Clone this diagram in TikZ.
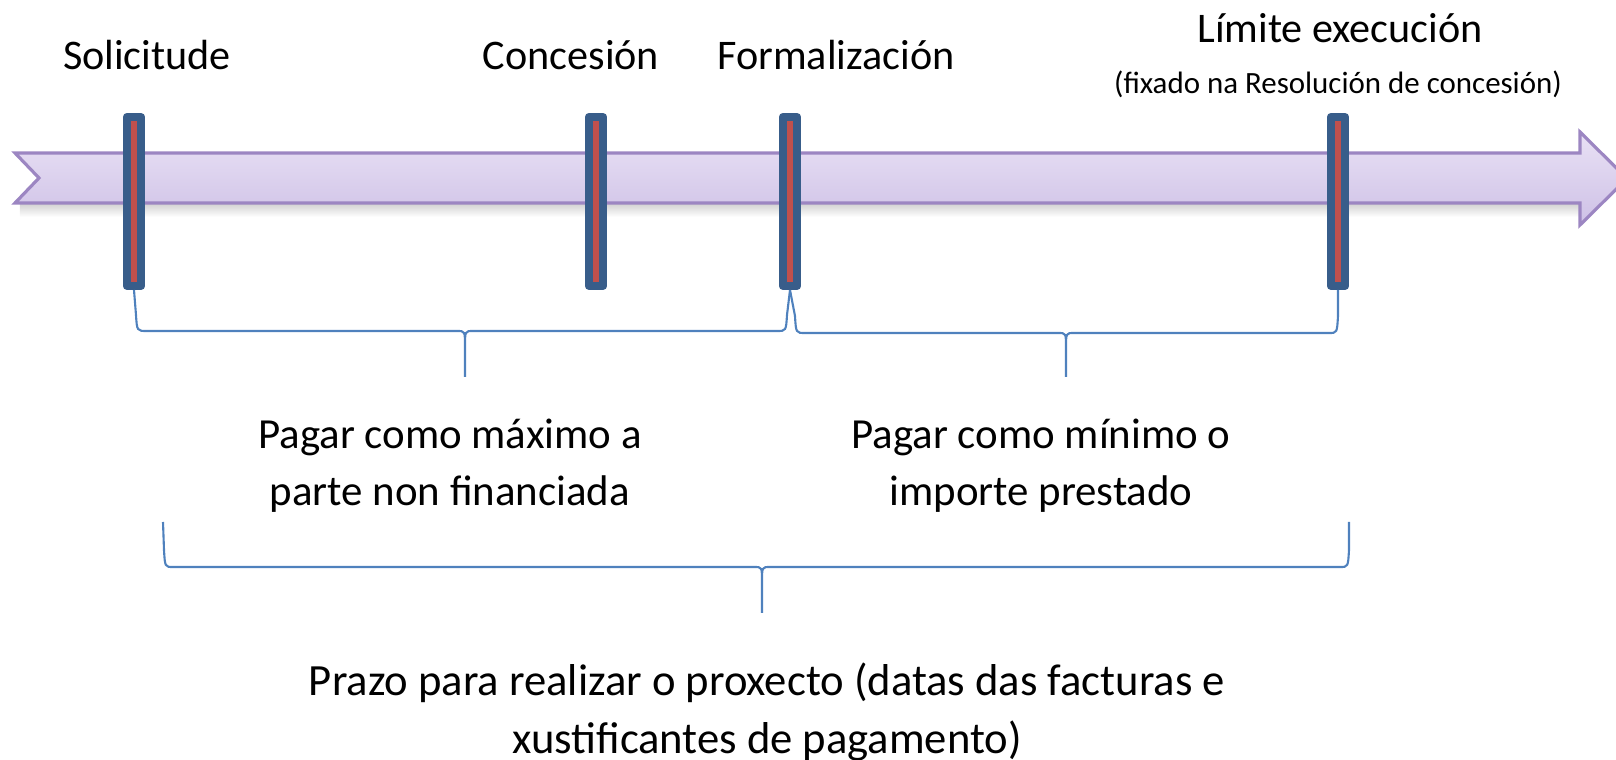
\documentclass[tikz,border=0pt]{standalone}
\usepackage{fontspec}
\setmainfont{Carlito}
\definecolor{arrowtop}{HTML}{E9E1F5}
\definecolor{arrowbot}{HTML}{CEC1E6}
\definecolor{arrowline}{HTML}{9C86C2}
\definecolor{markblue}{HTML}{385D8A}
\definecolor{markred}{HTML}{C0504D}
\definecolor{bracecol}{HTML}{4F81BD}
\tikzset{
  marker/.style={draw=markblue, fill=markred, line width=0.08cm, line join=round,
    minimum width=0.145cm, minimum height=1.69cm, inner sep=0pt},
  lbl/.style={anchor=base, font=\fontsize{12}{14}\selectfont},
  txt/.style={align=center, font=\fontsize{12.2}{16.3}\selectfont},
  bracel/.style={draw=bracecol, line width=0.6pt}
}

\begin{document}
\begin{tikzpicture}[scale=1]
    \useasboundingbox (0,0) rectangle (16.16,-7.60);

    % Time line.
    \fill [top color=black!20, bottom color=white] (0.20,-2.02) rectangle (15.80,-2.17);
    \filldraw [top color=arrowtop, bottom color=arrowbot, draw=arrowline, line width=0.9pt]
      (0.15,-1.53) -- (15.80,-1.53) -- (15.80,-1.32) -- (16.27,-1.785)
      -- (15.80,-2.25) -- (15.80,-2.03) -- (0.15,-2.03) -- (0.39,-1.78) -- cycle;

    % Milestones.
    \node [marker] (sol)  at (1.34 ,-2.015) {};
    \node [marker] (conc) at (5.96 ,-2.015) {};
    \node [marker] (form) at (7.90 ,-2.015) {};
    \node [marker] (lim)  at (13.38,-2.015) {};

    % Milestone names.
    \node [lbl] (tsol)  at (1.47 ,-0.70) {Solicitude};
    \node [lbl] (tconc) at (5.71 ,-0.70) {Concesión};
    \node [lbl] (tform) at (8.36 ,-0.70) {Formalización};
    \node [lbl] (tlim)  at (13.40,-0.43) {Límite execución};
    \node [lbl, font=\fontsize{8.8}{10}\selectfont] (tnote) at (13.38,-0.94)
      {(fixado na Resolución de concesión)};

    % Braces between milestones.
    \draw [bracel] (sol.south) -- (1.36,-3.15) .. controls (1.37,-3.31) .. (1.47,-3.31)
      -- (4.57,-3.31) .. controls (4.65,-3.31) .. (4.65,-3.47) -- (4.65,-3.77)
      -- (4.65,-3.47) .. controls (4.65,-3.31) .. (4.73,-3.31)
      -- (7.77,-3.31) .. controls (7.86,-3.31) .. (7.87,-3.15) -- (form.south);
    \draw [bracel] (form.south) -- (7.95,-3.16) .. controls (7.96,-3.33) .. (8.05,-3.33)
      -- (10.58,-3.33) .. controls (10.66,-3.33) .. (10.66,-3.48) -- (10.66,-3.77)
      -- (10.66,-3.48) .. controls (10.66,-3.33) .. (10.74,-3.33)
      -- (13.29,-3.33) .. controls (13.37,-3.33) .. (13.38,-3.16) -- (lim.south);

    % Whole period.
    \coordinate (b3l) at (1.63 ,-5.22);
    \coordinate (b3r) at (13.49,-5.22);
    \draw [bracel] (b3l) -- (1.64,-5.50) .. controls (1.65,-5.67) .. (1.73,-5.67)
      -- (7.54,-5.67) .. controls (7.62,-5.67) .. (7.62,-5.82) -- (7.62,-6.13)
      -- (7.62,-5.82) .. controls (7.62,-5.67) .. (7.70,-5.67)
      -- (13.40,-5.67) .. controls (13.48,-5.67) .. (13.49,-5.50) -- (b3r);

    % Explanations.
    \node [txt] (paga1) at (4.50 ,-4.66) {Pagar como máximo a\\parte non financiada};
    \node [txt] (paga2) at (10.41,-4.66) {Pagar como mínimo o\\importe prestado};
    \node [txt, font=\fontsize{12.7}{16.3}\selectfont] (prazo) at (7.67,-7.12)
      {Prazo para realizar o proxecto (datas das facturas e\\xustificantes de pagamento)};

  \end{tikzpicture}
\end{document}
